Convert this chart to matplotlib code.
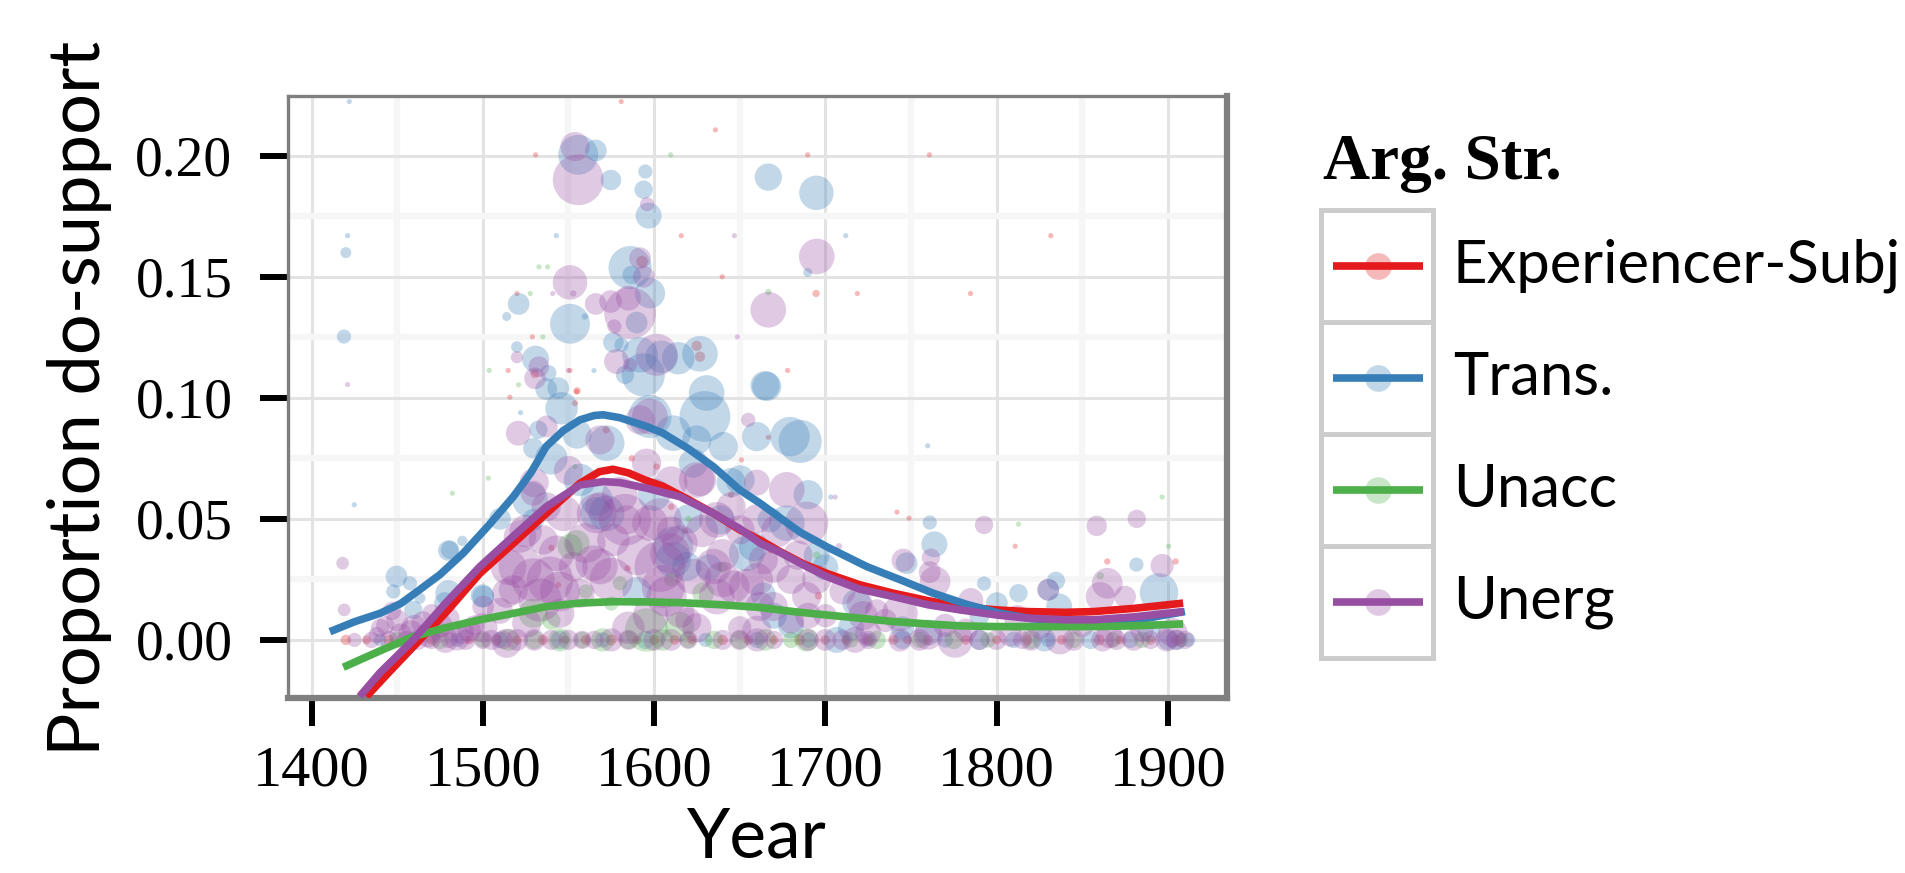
import numpy as np
import matplotlib.pyplot as plt
from matplotlib.patches import Rectangle
from matplotlib.ticker import MultipleLocator

# 论元结构类别与颜色 (Set1)
groups = ["Experiencer-Subj", "Trans.", "Unacc", "Unerg"]
colors = ["#E41A1C", "#377EB8", "#4DAF4A", "#984EA3"]

# ---- 散点数据：年份、比例、词例数 ----
exp_year = [1580.8, 1530.8, 1635.8, 1689.7, 1760.8, 1615.9, 1831.7, 1593.0, 1639.8, 1694.6,
            1718.7, 1784.8, 1519.9, 1528.9, 1514.8, 1550.9, 1530.4, 1678.0, 1555.0, 1515.8,
            1554.8, 1553.8, 1624.9, 1626.8, 1651.0, 1666.7, 1601.5, 1584.5, 1544.0, 1741.9,
            1748.9, 1810.9, 1864.7, 1904.6, 1572.0, 1587.0, 1618.0, 1645.0, 1696.0, 1668.0,
            1540.0, 1610.0,
            1420, 1432, 1445, 1470, 1492, 1508, 1520, 1535, 1548, 1560, 1575, 1590, 1600,
            1612, 1622, 1640, 1655, 1670, 1685, 1700, 1712, 1725, 1740, 1748, 1760, 1782,
            1800, 1818, 1838, 1860, 1872, 1890, 1905]
exp_prop = [0.2224, 0.2004, 0.2107, 0.2004, 0.2004, 0.167, 0.167, 0.1563, 0.150, 0.1431,
            0.1431, 0.1431, 0.1431, 0.1252, 0.1113, 0.1113, 0.110, 0.1113, 0.1029, 0.1003,
            0.1026, 0.0978, 0.1215, 0.117, 0.0744, 0.0837, 0.0716, 0.0296, 0.0227, 0.0528,
            0.0503, 0.0387, 0.0324, 0.0324, 0.0868, 0.075, 0.045, 0.060, 0.0182, 0.037,
            0.038, 0.055,
            0, 0, 0, 0, 0, 0, 0, 0, 0, 0, 0, 0, 0, 0, 0, 0, 0, 0, 0, 0, 0, 0, 0, 0, 0, 0,
            0, 0, 0, 0, 0, 0, 0]
exp_n = [2, 2, 2, 2, 2, 2, 2, 10, 2, 4, 2, 2, 2, 2, 2, 2, 6, 2, 4, 2,
         2, 3, 8, 8, 2, 2, 3, 3, 3, 2, 2, 2, 3, 3, 4, 3, 3, 3, 4, 3, 3, 3,
         8, 6, 8, 7, 6, 9, 7, 8, 6, 7, 9, 6, 8, 7, 6, 8, 7, 6, 9, 7, 6, 8, 7, 6, 8, 7,
         6, 8, 7, 9, 6, 7, 8]

trans_year = [1422.0, 1421.0, 1420.0, 1418.9, 1424.9, 1555.7, 1566.0, 1574.8, 1594.9, 1593.9,
              1596.8, 1666.7, 1694.8, 1542.9, 1711.9, 1586.0, 1586.9, 1597.6, 1520.9, 1513.9,
              1550.9, 1559.6, 1589.8, 1689.7, 1519.9, 1530.8, 1538.2, 1564.9, 1576.2, 1581.0,
              1591.8, 1604.4, 1614.1, 1626.8, 1583.0, 1593.7, 1664.8, 1537.0, 1544.0, 1546.0,
              1522.0, 1529.5, 1532.4, 1597.6, 1629.7, 1659.9, 1665.8, 1685.3, 1679.4, 1759.8,
              1611.2, 1572.3, 1622.9, 1650.2, 1566.5, 1527.6, 1572.3, 1677.5, 1654.1, 1611.2,
              1479.8, 1488.0, 1480.8, 1449.6, 1457.4, 1447.7, 1463.3, 1479.8, 1477.9, 1500.2,
              1499.7, 1459.4, 1703.2, 1761.0, 1763.7, 1747.5, 1792.7, 1834.7, 1830.2, 1881.7,
              1894.9, 1800.2, 1812.8, 1836.6, 1718.3, 1695.0, 1790.0,
              1611.2, 1619.0, 1556.7, 1566.5, 1638.5, 1658.0, 1667.7, 1529.4, 1663.8, 1624.9,
              1640.4, 1630.7, 1760.0, 1828.0, 1889.0, 1905.0, 1680.0,
              1540, 1555, 1600, 1620, 1645, 1690, 1700, 1590, 1632, 1510, 1670, 1715, 1745,
              1440, 1460, 1485, 1510, 1545, 1570, 1595, 1630, 1660, 1690, 1706.6, 1725, 1745,
              1770, 1790, 1810, 1830, 1855, 1878, 1900, 1912]
trans_prop = [0.2224, 0.167, 0.160, 0.1253, 0.0558, 0.2004, 0.2022, 0.190, 0.1935, 0.186,
              0.1753, 0.1912, 0.1847, 0.167, 0.167, 0.1538, 0.1508, 0.1432, 0.1388, 0.1336,
              0.1306, 0.1336, 0.1311, 0.1518, 0.121, 0.116, 0.1102, 0.1113, 0.1229, 0.1219,
              0.1178, 0.117, 0.1164, 0.1182, 0.1095, 0.1095, 0.1051, 0.1036, 0.104, 0.0957,
              0.0939, 0.0792, 0.0868, 0.0923, 0.0923, 0.084, 0.1047, 0.082, 0.084, 0.0802,
              0.0854, 0.0813, 0.073, 0.0661, 0.0579, 0.0579, 0.0523, 0.0482, 0.0358, 0.0331,
              0.0369, 0.0409, 0.0372, 0.0262, 0.0234, 0.020, 0.0172, 0.0193, 0.0152, 0.0179,
              0.0182, 0.0124, 0.059, 0.0485, 0.0395, 0.0317, 0.0233, 0.0244, 0.0207, 0.0311,
              0.0196, 0.0152, 0.0193, 0.0138, 0.0152, 0.035, 0.010,
              0.0386, 0.0303, 0.0661, 0.0523, 0.0496, 0.0386, 0.0496, 0.0496, 0.0186, 0.0826,
              0.0799, 0.102, 0.003, 0.0, 0.004, 0.0, 0.006,
              0.075, 0.085, 0.060, 0.050, 0.065, 0.060, 0.030, 0.020, 0.030, 0.050, 0.010,
              0.005, 0.005,
              0, 0, 0, 0, 0, 0, 0, 0, 0, 0, 0, 0, 0, 0, 0, 0, 0, 0, 0, 0, 0]
trans_n = [2, 2, 9, 15, 2, 118, 35, 31, 15, 25, 50, 55, 88, 2, 2, 138, 25, 68, 35, 6,
           118, 3, 35, 6, 10, 54, 20, 2, 31, 15, 94, 78, 78, 94, 25, 138, 63, 35, 35, 78,
           2, 31, 25, 138, 191, 63, 63, 138, 115, 2, 94, 94, 63, 63, 78, 94, 94, 94, 94, 94,
           31, 8, 25, 35, 15, 15, 9, 50, 35, 35, 40, 25, 2, 15, 50, 35, 15, 25, 35, 15,
           110, 35, 25, 50, 60, 50, 30,
           118, 63, 78, 78, 63, 63, 46, 35, 46, 63, 63, 94, 50, 40, 40, 30, 50,
           78, 63, 78, 63, 63, 63, 50, 63, 50, 35, 50, 50, 40,
           12, 18, 15, 20, 25, 18, 25, 15, 20, 18, 50, 15, 25, 18, 30, 20, 15, 25, 20, 30, 15]

unacc_year = [1609.7, 1532.8, 1537.8, 1535.0, 1503.7, 1520.9, 1666.7, 1527.7, 1482.2, 1503.2,
              1553.8, 1812.8, 1896.7, 1900.5, 1554.8, 1595.6, 1580.0, 1610.0, 1560.0, 1575.0,
              1540.0, 1695.0, 1860.6, 1620.0, 1660.0, 1640.0,
              1550.9, 1628.7, 1615.0, 1529.4,
              1450, 1475, 1500, 1515, 1530, 1545, 1558, 1570, 1585, 1605, 1620, 1635, 1650,
              1665, 1680, 1689, 1715, 1730, 1755, 1775, 1795, 1820, 1845, 1868, 1885, 1908]
unacc_prop = [0.2004, 0.1541, 0.1541, 0.1252, 0.1113, 0.1054, 0.1437, 0.1431, 0.0606, 0.0668,
              0.0716, 0.0478, 0.059, 0.0387, 0.040, 0.0041, 0.0234, 0.025, 0.020, 0.015,
              0.008, 0.035, 0.0265, 0.050, 0.042, 0.030,
              0.0386, 0.0193, 0.0055, 0.011,
              0, 0, 0, 0, 0, 0, 0, 0, 0, 0, 0, 0, 0, 0, 0, 0, 0, 0, 0, 0, 0, 0, 0, 0, 0, 0]
unacc_n = [2, 2, 2, 2, 2, 2, 3, 2, 2, 2, 2, 2, 2, 2, 50, 138, 15, 15, 15, 15,
           25, 4, 4, 3, 3, 8,
           46, 35, 63, 63,
           20, 25, 18, 35, 25, 40, 20, 40, 25, 35, 20, 25, 25, 35, 20, 40, 18, 25, 20, 25,
           18, 25, 20, 18, 20, 15]

unerg_year = [1555.7, 1553.8, 1595.9, 1646.9, 1648.7, 1591.8, 1550.9, 1695.0, 1594.0, 1586.0,
              1585.0, 1574.6, 1565.9, 1540.8, 1552.8, 1576.8, 1666.7, 1519.9, 1532.7, 1530.5,
              1549.9, 1578.1, 1586.0, 1601.5, 1421.0, 1418.1, 1419.0, 1520.7, 1537.3, 1568.4,
              1597.6, 1655.0, 1626.8, 1677.5, 1547.0, 1566.5, 1583.0, 1597.6, 1636.6, 1689.1,
              1535.3, 1521.7, 1539.2, 1533.4, 1564.5, 1603.4, 1607.3, 1622.9, 1646.3, 1669.7,
              1689.1, 1661.8, 1636.6, 1513.9, 1525.6, 1500.2, 1705.8, 1708.0, 1792.7, 1858.5,
              1881.9, 1896.7, 1745.5, 1761.7, 1764.1, 1761.0, 1864.7, 1860.6, 1875.1, 1785.0,
              1743.6, 1830.2,
              1521.7, 1529.4, 1517.8, 1543.1, 1552.8, 1568.4, 1576.2, 1584.0, 1603.5, 1609.3,
              1605.4, 1615.1, 1634.6, 1624.9, 1654.1, 1663.8, 1650.2, 1669.6, 1545.0, 1513.9,
              1556.7, 1568.4, 1595.6, 1591.8, 1529.4, 1537.0,
              1515, 1525, 1545, 1560, 1575, 1590, 1598, 1615, 1628, 1640, 1660, 1672, 1684,
              1695, 1530, 1550, 1580, 1610, 1645, 1660, 1690, 1710, 1730, 1500, 1510, 1585,
              1625, 1660, 1680,
              1440, 1450, 1458, 1465, 1472, 1480, 1488, 1495, 1447, 1470, 1478,
              1452, 1460, 1468, 1475, 1485, 1492, 1438, 1443,
              1610, 1640, 1660, 1680, 1700, 1720, 1620, 1650,
              1725, 1735, 1760, 1770, 1782, 1808, 1825, 1850, 1866, 1885, 1903, 1812, 1722,
              1425, 1435, 1445, 1455, 1462, 1470, 1480, 1490, 1500, 1520, 1540, 1565, 1600,
              1640, 1700, 1717.4, 1743.6, 1775.8, 1800, 1820, 1837, 1862, 1880, 1899.4, 1910,
              1505, 1512, 1530, 1550, 1558, 1575, 1585, 1610, 1620, 1650, 1660, 1670, 1690,
              1710, 1725, 1755, 1790, 1815, 1845, 1870, 1890, 1905]
unerg_prop = [0.1901, 0.2038, 0.180, 0.167, 0.1252, 0.1577, 0.1477, 0.1584, 0.150, 0.135,
              0.1412, 0.1398, 0.1388, 0.1431, 0.1431, 0.1295, 0.1364, 0.1168, 0.1129, 0.1081,
              0.1113, 0.115, 0.1136, 0.1178, 0.1055, 0.0317, 0.0124, 0.0854, 0.0882, 0.0826,
              0.0923, 0.0909, 0.0661, 0.062, 0.0523, 0.0523, 0.0496, 0.0482, 0.0496, 0.0482,
              0.0413, 0.0303, 0.0248, 0.0165, 0.0317, 0.0303, 0.0179, 0.0262, 0.022, 0.0303,
              0.0179, 0.0138, 0.0179, 0.0193, 0.0069, 0.0138, 0.059, 0.0387, 0.0475, 0.0471,
              0.050, 0.0307, 0.0329, 0.034, 0.0241, 0.028, 0.0234, 0.0179, 0.0179, 0.0163,
              0.011, 0.0207,
              0.0427, 0.0248, 0.0207, 0.0358, 0.0303, 0.0303, 0.0413, 0.0496, 0.0496, 0.0358,
              0.022, 0.011, 0.0303, 0.0661, 0.022, 0.0331, 0.0455, 0.0138, 0.011, -0.0014,
              0.0193, 0.055, 0.073, 0.0909, 0.0606, 0.055,
              0.030, 0.045, 0.020, 0.040, 0.025, 0.035, 0.010, 0.040, 0.045, 0.025, 0.025,
              0.045, 0.035, 0.025, 0.065, 0.070, 0.060, 0.065, 0.055, 0.065, 0.010, 0.020,
              0.012, 0.005, 0.012, 0.005, 0.005, 0.004, 0.008,
              0.005, 0.008, 0.003, 0.007, 0.004, 0.009, 0.003, 0.006, 0.012, 0.011, 0.0,
              0.002, 0.005, 0.002, 0.006, 0.001, 0.004, 0.002, 0.006,
              0.045, 0.035, 0.050, 0.025, 0.010, 0.015, 0.008, 0.005,
              0.003, 0.008, 0.002, 0.006, 0.004, 0.002, 0.005, 0.006, 0.002, 0.004, 0.003,
              0.009, 0.010,
              0, 0, 0, 0, 0, 0, 0, 0, 0, 0, 0, 0, 0, 0, 0, 0, 0, 0, 0, 0, 0, 0, 0, 0, 0,
              0, 0, 0, 0, 0, 0, 0, 0, 0, 0, 0, 0, 0, 0, 0, 0, 0, 0, 0, 0, 0, 0]
unerg_n = [191, 63, 15, 2, 2, 35, 88, 94, 35, 199, 46, 38, 35, 2, 3, 15, 94, 11, 31, 35,
           2, 46, 15, 131, 2, 12, 12, 46, 35, 63, 94, 15, 78, 94, 94, 118, 199, 94, 94, 138,
           63, 138, 160, 138, 94, 191, 118, 94, 78, 78, 63, 63, 94, 63, 63, 35, 2, 3, 25, 31,
           25, 40, 40, 25, 70, 35, 70, 63, 35, 46, 94, 35,
           78, 138, 63, 94, 63, 94, 78, 63, 138, 118, 138, 63, 94, 94, 94, 63, 63, 63, 63, 63,
           63, 63, 63, 63, 46, 63,
           94, 78, 118, 118, 138, 118, 94, 94, 78, 94, 78, 78, 63, 63, 63, 63, 94, 78, 63,
           50, 50, 50, 40, 63, 50, 78, 63, 63, 50,
           25, 35, 46, 40, 30, 35, 40, 30, 25, 25, 50,
           40, 50, 46, 46, 50, 40, 20, 25,
           63, 78, 63, 63, 40, 50, 50, 40,
           50, 40, 63, 40, 40, 40, 40, 40, 50, 40, 63, 50, 63,
           15, 20, 25, 25, 30, 25, 20, 30, 25, 35, 30, 25, 35, 30, 35, 50, 40, 94, 30, 35,
           63, 40, 35, 40, 25,
           30, 25, 35, 30, 25, 40, 30, 35, 25, 30, 40, 25, 35, 30, 25, 35, 30, 25, 35, 30,
           25, 30]

# ---- 平滑曲线 (loess) 读数 ----
exp_fit_year = [1432, 1445, 1459.4, 1478, 1498.3, 1518, 1537.2, 1556.7, 1568, 1576, 1585, 1595,
                1605.4, 1620, 1634.6, 1650, 1661.8, 1673.5, 1687, 1700.7, 1720, 1739.7, 1760,
                1778.7, 1800, 1817.6, 1840, 1856.6, 1880, 1909]
exp_fit = [-0.0234, -0.0135, -0.0028, 0.011, 0.0275, 0.040, 0.0523, 0.0647, 0.0695, 0.0705,
           0.069, 0.066, 0.0634, 0.058, 0.0523, 0.0455, 0.0413, 0.0365, 0.0315, 0.0275, 0.0228,
           0.0193, 0.0162, 0.0138, 0.0124, 0.0117, 0.0114, 0.0117, 0.013, 0.0152]

trans_fit_year = [1410.7, 1425, 1440, 1452, 1463, 1475, 1488.5, 1503, 1517.8, 1528, 1537, 1547,
                  1556.7, 1565, 1570.3, 1580, 1595.6, 1605, 1620, 1634.6, 1650, 1661.8, 1673.5,
                  1685.3, 1700.8, 1724.2, 1745, 1763, 1782, 1802, 1820, 1841, 1860, 1880, 1910]
trans_fit = [0.0034, 0.0075, 0.011, 0.015, 0.0207, 0.027, 0.0358, 0.047, 0.0592, 0.069, 0.0799,
             0.0865, 0.0909, 0.0927, 0.093, 0.0918, 0.0882, 0.0855, 0.079, 0.0716, 0.062, 0.0565,
             0.0505, 0.0445, 0.0385, 0.0303, 0.0245, 0.0193, 0.0148, 0.011, 0.0088, 0.0076,
             0.0075, 0.008, 0.0117]

unacc_fit_year = [1418.5, 1440, 1459.4, 1478, 1498.3, 1518, 1537.2, 1556, 1576.2, 1595, 1615,
                  1640, 1661.8, 1680, 1700.7, 1720, 1739.7, 1760, 1778.7, 1800, 1817.6, 1856.6,
                  1880, 1909]
unacc_fit = [-0.0113, -0.0045, 0.0014, 0.005, 0.0083, 0.011, 0.0138, 0.0152, 0.0158, 0.0157,
             0.0154, 0.0145, 0.0134, 0.0118, 0.0103, 0.009, 0.0076, 0.0066, 0.0058, 0.0055,
             0.0055, 0.0055, 0.0058, 0.0066]

unerg_fit_year = [1428, 1440, 1459.4, 1478, 1498.3, 1518, 1537, 1556.7, 1570.3, 1580, 1595.6,
                  1615, 1634.6, 1650, 1661.8, 1673.5, 1687, 1700.7, 1720, 1739.7, 1760, 1778.7,
                  1800, 1817.6, 1840, 1856.6, 1880, 1909]
unerg_fit = [-0.0234, -0.0135, 0.0, 0.015, 0.0303, 0.043, 0.055, 0.064, 0.0654, 0.065, 0.0627,
             0.0592, 0.0523, 0.046, 0.040, 0.0362, 0.031, 0.0262, 0.021, 0.0179, 0.0145, 0.0124,
             0.0103, 0.009, 0.0083, 0.0083, 0.0095, 0.0117]

x_ticks = [1400, 1500, 1600, 1700, 1800, 1900]
y_ticks = [0.00, 0.05, 0.10, 0.15, 0.20]

W, H = 1906, 873
fig = plt.figure(figsize=(W / 100, H / 100), dpi=100)
ax = fig.add_axes([288 / W, (H - 698) / H, (1227 - 288) / W, (698 - 96) / H])

points = [(exp_year, exp_prop, exp_n), (trans_year, trans_prop, trans_n),
          (unacc_year, unacc_prop, unacc_n), (unerg_year, unerg_prop, unerg_n)]
fits = [(exp_fit_year, exp_fit), (trans_fit_year, trans_fit),
        (unacc_fit_year, unacc_fit), (unerg_fit_year, unerg_fit)]

# 点的面积与词例数成正比
for (yr, pr, n), c in zip(points, colors):
    ax.scatter(yr, pr, s=7.0 * np.array(n), color=c, alpha=0.3, linewidths=0, zorder=2)

for (yr, fv), c in zip(fits, colors):
    ax.plot(yr, fv, color=c, lw=5.5, solid_capstyle="butt", zorder=3)

ax.set_xlim(1386.2, 1934.6)
ax.set_ylim(-0.024, 0.2247)
ax.set_xticks(x_ticks)
ax.set_yticks(y_ticks)
ax.set_yticklabels(["%.2f" % v for v in y_ticks])
ax.xaxis.set_minor_locator(MultipleLocator(50))
ax.yaxis.set_minor_locator(MultipleLocator(0.025))
ax.set_axisbelow(True)
ax.grid(which="minor", color="#F6F6F6", lw=4.5)
ax.grid(which="major", color="#E3E3E3", lw=2.2)
ax.tick_params(which="major", length=20, width=4.3, color="black", labelsize=40)
ax.tick_params(axis="x", pad=14, labelsize=42)
ax.tick_params(axis="y", pad=20)
ax.tick_params(which="minor", length=0)
for lab in ax.get_xticklabels() + ax.get_yticklabels():
    lab.set_family("Liberation Serif")

for side in ["top", "left"]:
    ax.spines[side].set_color("#7F7F7F")
    ax.spines[side].set_linewidth(2.4)
for side in ["right", "bottom"]:
    ax.spines[side].set_color("#7F7F7F")
    ax.spines[side].set_linewidth(4.5)

# 图例与坐标轴标题（像素坐标）
lax = fig.add_axes([0, 0, 1, 1])
lax.set_xlim(0, W)
lax.set_ylim(H, 0)
lax.axis("off")
lax.patch.set_alpha(0)

lax.text(80, 398, "Proportion do-support", rotation=90, ha="center", va="center",
         fontsize=52, family="Lato")
lax.text(757, 838, "Year", ha="center", va="center", fontsize=50, family="Lato")

lax.text(1323, 179, "Arg. Str.", ha="left", va="baseline", fontsize=47,
         family="Liberation Serif", fontweight="bold")
box_top = 210
box_h = 112
for i, (g, c) in enumerate(zip(groups, colors)):
    y0 = box_top + i * box_h
    lax.add_patch(Rectangle((1321.5, y0), 112, box_h, facecolor="white",
                            edgecolor="#CCCCCC", lw=3.6))
    yc = y0 + box_h / 2
    lax.scatter([1378], [yc], s=370, color=c, alpha=0.3, linewidths=0, zorder=3)
    lax.plot([1333, 1423], [yc, yc], color=c, lw=5.5, solid_capstyle="butt", zorder=4)
    lax.text(1453, yc, g, ha="left", va="center", fontsize=43, family="Lato")

fig.savefig("out.png", dpi=100)
